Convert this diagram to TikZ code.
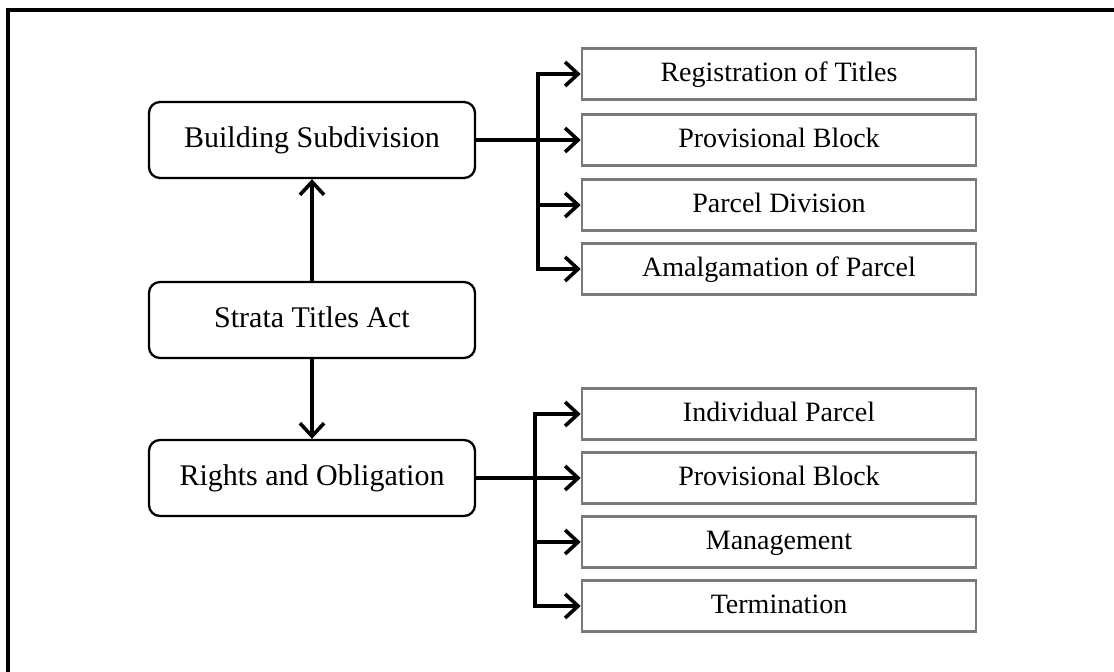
\documentclass[tikz,border=0pt]{standalone}
\usepackage{fontspec}
\setmainfont{Liberation Serif}
\usetikzlibrary{arrows.meta}
\begin{document}
\begin{tikzpicture}[x=1pt,y=-1pt,
  topic/.style={draw=black,line width=2.3pt,rounded corners=11pt,
    minimum width=326pt,minimum height=76pt,inner sep=0pt,
    text height=21pt,text depth=7pt,
    font=\fontsize{30}{35}\selectfont},
  item/.style={draw=black!52,line width=2.6pt,
    minimum width=394pt,minimum height=51pt,inner sep=0pt,
    text height=20pt,text depth=6pt,
    font=\fontsize{28}{33}\selectfont},
  arr/.style={line width=3.6pt,-{Straight Barb[length=13pt,width=24pt,line width=3.6pt]}}]
\useasboundingbox (0,0) rectangle (1114,672);
% open frame around the chart
\draw[line width=3.2pt] (8,672) -- (8,10) -- (1114,10);

% main topics
\node[topic] (bs)  at (312,140) {Building Subdivision};
\node[topic] (sta) at (312,320) {Strata Titles Act};
\node[topic] (ro)  at (312,478) {Rights and Obligation};

% building subdivision items
\node[item] (a1) at (779,74)  {Registration of Titles};
\node[item] (a2) at (779,140) {Provisional Block};
\node[item] (a3) at (779,205) {Parcel Division};
\node[item] (a4) at (779,269) {Amalgamation of Parcel};

% rights and obligation items
\node[item] (b1) at (779,414) {Individual Parcel};
\node[item] (b2) at (779,478) {Provisional Block};
\node[item] (b3) at (779,542) {Management};
\node[item] (b4) at (779,606) {Termination};

% vertical links
\draw[arr] (sta.north) -- (bs.south);
\draw[arr] (sta.south) -- (ro.north);

% upper branch
\coordinate (ta) at (538,140);
\draw[arr] (bs.east) -- (a2.west);
\draw[arr] (ta) |- (a1.west);
\draw[arr] (ta) |- (a3.west);
\draw[arr] (ta) |- (a4.west);

% lower branch
\coordinate (tb) at (535,478);
\draw[arr] (ro.east) -- (b2.west);
\draw[arr] (tb) |- (b1.west);
\draw[arr] (tb) |- (b3.west);
\draw[arr] (tb) |- (b4.west);
\end{tikzpicture}
\end{document}
